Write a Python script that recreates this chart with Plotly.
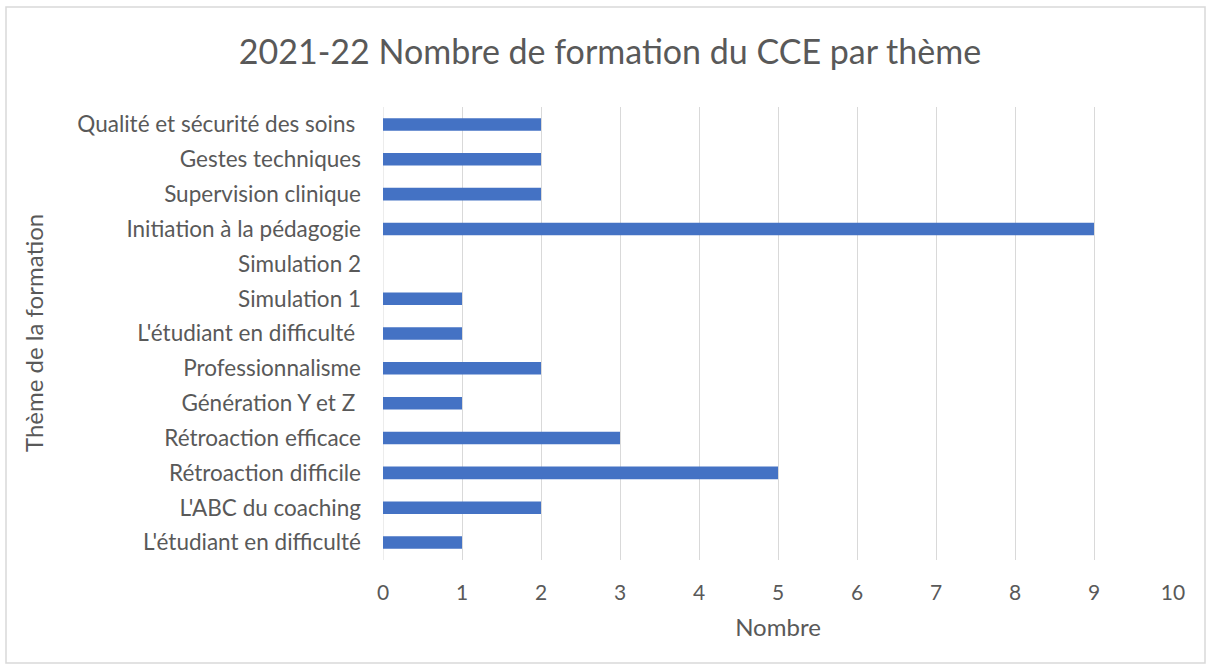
import plotly.graph_objects as go

categories = [
    "L'étudiant en difficulté",
    "L'ABC du coaching",
    "Rétroaction difficile",
    "Rétroaction efficace",
    "Génération Y et Z ",
    "Professionnalisme",
    "L'étudiant en difficulté ",
    "Simulation 1",
    "Simulation 2",
    "Initiation à la pédagogie",
    "Supervision clinique",
    "Gestes techniques",
    "Qualité et sécurité des soins ",
]
values = [1, 2, 5, 3, 1, 2, 1, 1, None, 9, 2, 2, 2]
x_ticks = list(range(0, 11))

FONT = "Lato"
GRAY = "#595959"

T, B = 107, 110
PH = 670 - T - B
PB = 670 - B

fig = go.Figure(go.Bar(
    y=categories, x=values, orientation="h",
    marker=dict(color="#4472C4", line=dict(width=0)),
    showlegend=False,
))

fig.update_layout(
    width=1211, height=670,
    margin=dict(l=383, r=38, t=T, b=B),
    paper_bgcolor="white", plot_bgcolor="white",
    bargap=0.64,
    font=dict(family=FONT, color=GRAY, size=21),
    title=dict(text="2021-22 Nombre de formation du CCE par thème",
               x=610/1211, xanchor="center", xref="container",
               y=1-52/670, yanchor="middle", yref="container",
               font=dict(size=34, color=GRAY, family=FONT)),
    xaxis=dict(range=[0, 10], tickvals=x_ticks, showgrid=True, gridcolor="#D9D9D9",
               gridwidth=1, zeroline=False, showline=False,
               tickfont=dict(size=21, color=GRAY), ticklabelstandoff=18,
               title=dict(text="Nombre", font=dict(size=24, color=GRAY), standoff=16)),
    yaxis=dict(categoryorder="array", categoryarray=categories, showgrid=False,
               zeroline=False, showline=False, tickfont=dict(size=22.5, color=GRAY),
               ticklabelstandoff=21),
    shapes=[
        dict(type="rect", xref="paper", yref="paper",
             x0=(6-383)/790, x1=(1205-383)/790, y0=(PB-663)/PH, y1=(PB-7)/PH,
             line=dict(color="#D9D9D9", width=1.5), fillcolor="rgba(0,0,0,0)", layer="below"),
        dict(type="line", xref="x", yref="paper", x0=0, x1=0, y0=0, y1=1,
             line=dict(color="#D9D9D9", width=1), layer="below"),
    ],
    annotations=[
        dict(text="Thème de la formation", xref="paper", yref="paper",
             x=(33-383)/790, y=(PB-333)/PH, textangle=-90, showarrow=False,
             xanchor="center", yanchor="middle",
             font=dict(size=24, color=GRAY, family=FONT)),
    ],
)

fig.write_html("out.html", config={"displayModeBar": False},
               post_script="document.body.style.margin='0';")
